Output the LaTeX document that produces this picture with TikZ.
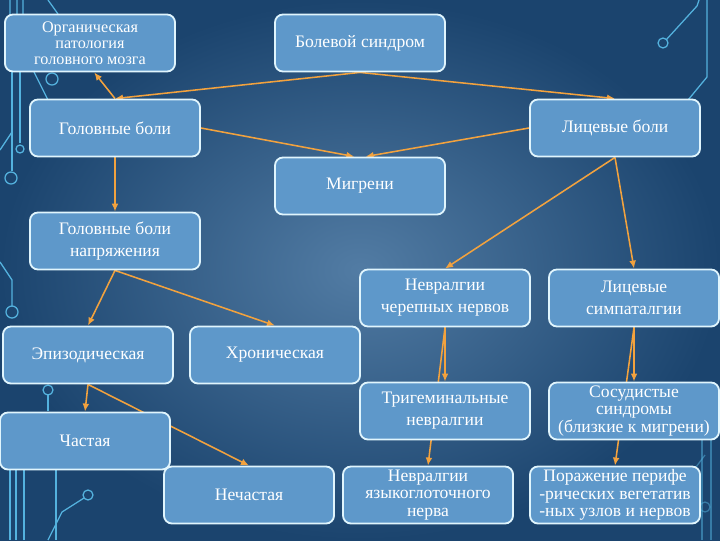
\documentclass[tikz,border=0pt]{standalone}
\usepackage{fontspec}
\setmainfont{Liberation Serif}
\usetikzlibrary{arrows.meta}

\pgfdeclarelayer{bg}
\pgfdeclarelayer{links}
\pgfsetlayers{bg,links,main}

\definecolor{boxblue}{RGB}{94,152,202}
\definecolor{deepblue}{RGB}{27,68,110}
\definecolor{midblue}{RGB}{82,124,164}
\definecolor{wire}{RGB}{84,178,222}
\definecolor{linkorange}{RGB}{242,162,62}

\begin{document}
\begin{tikzpicture}[x=0.025cm, y=-0.025cm,
    card/.style={rectangle, rounded corners=0.2cm, draw=white!88!cyan, line width=1.3pt, fill=boxblue, text=white, minimum width=4.25cm, minimum height=1.425cm, align=center, inner sep=2pt, font=\fontsize{12.5}{15.5}\selectfont},
    link/.style={linkorange, line width=1.1pt, -{Latex[length=2mm, width=1.7mm]}},
    wires/.style={wire, line width=0.9pt}
]
\useasboundingbox (0,0) rectangle (720,540);

% background and circuit lines
\begin{pgfonlayer}{bg}
\shade[inner color=midblue, outer color=deepblue] (0,0) rectangle (720,540);
\draw[wires] (10,0) -- (10,14) (17,0) -- (17,14) (23,0) -- (23,14) (48,0) -- (58,14);
\draw[wires] (12,72) -- (12,171);
\draw[wires] (11,178) circle (6);
\draw[wires] (20,72) -- (20,143);
\draw[wires] (20,149) circle (4);
\draw[wires] (34,72) -- (48,100);
\draw[wires] (52,79) circle (6);
\draw[wires] (0,150) -- (12,132);
\draw[wires] (0,262) -- (12,280) -- (12,306);
\draw[wires] (12,312) circle (6);
\draw[wires] (48,411) -- (48,395);
\draw[wires] (48,390) circle (5);
\draw[wires] (10,470) -- (10,540) (16,470) -- (16,540) (24,470) -- (24,540) (56,470) -- (56,540);
\draw[wires] (48,540) -- (62,512) -- (84,498);
\draw[wires] (88,495) circle (5);
\draw[wires] (707,0) -- (707,77) -- (688,100);
\draw[wires] (699,0) -- (697,6) -- (666,40);
\draw[wires] (663,43) circle (5);
\draw[wires, opacity=0.5] (702,440) -- (702,540) (711,440) -- (711,540);
\draw[wires, opacity=0.5] (690,475) -- (705,455);
\draw[wires, opacity=0.5] (705,507) circle (5);
\end{pgfonlayer}

% boxes
\node[card, font=\fontsize{11.5}{11.5}\selectfont] (organic) at (90,43) {Органическая\\патология\\головного мозга};
\node[card] (painsyn) at (360,43) {Болевой синдром};
\node[card] (headache) at (115,128) {Головные боли};
\node[card] (facepain) at (615,128) {Лицевые боли};
\node[card] (migraine) at (360,186) {Мигрени};
\node[card] (tension) at (115,241) {Головные боли\\напряжения};
\node[card] (cranial) at (445,298) {Невралгии\\черепных нервов};
\node[card] (sympath) at (634,298) {Лицевые\\симпаталгии};
\node[card] (episodic) at (88,355) {Эпизодическая};
\node[card] (chronic) at (275,355) {Хроническая};
\node[card] (trigem) at (445,411) {Тригеминальные\\невралгии};
\node[card, font=\fontsize{12.5}{12.5}\selectfont] (vascular) at (634,411) {Сосудистые\\синдромы\\(близкие к мигрени)};
\node[card] (frequent) at (85,441) {Частая};
\node[card] (rare) at (249,495) {Нечастая};
\node[card, font=\fontsize{12.5}{12.5}\selectfont] (glosso) at (428,495) {Невралгии\\языкоглоточного\\нерва};
\node[card, font=\fontsize{12.5}{12.5}\selectfont] (periph) at (615,495) {Поражение перифе\\-рических вегетатив\\-ных узлов и нервов};

% arrows
\begin{pgfonlayer}{links}
\draw[link] (painsyn.south) -- (headache.north);
\draw[link] (painsyn.south) -- (facepain.north);
\draw[link] (headache.north) -- ([xshift=3]organic.south);
\draw[link] (headache.east) -- ([xshift=-4]migraine.north);
\draw[link] (facepain.west) -- ([xshift=4]migraine.north);
\draw[link] (headache.south) -- (tension.north);
\draw[link] (facepain.south) -- (cranial.north);
\draw[link] (facepain.south) -- (sympath.north);
\draw[link] (cranial.south) -- (trigem.north);
\draw[link] (cranial.south) -- (glosso.north);
\draw[link] (sympath.south) -- (vascular.north);
\draw[link] (sympath.south) -- (periph.north);
\draw[link] (tension.south) -- (episodic.north);
\draw[link] (tension.south) -- (chronic.north);
\draw[link] (episodic.south) -- (frequent.north);
\draw[link] (episodic.south) -- (rare.north);
\end{pgfonlayer}
\end{tikzpicture}
\end{document}
